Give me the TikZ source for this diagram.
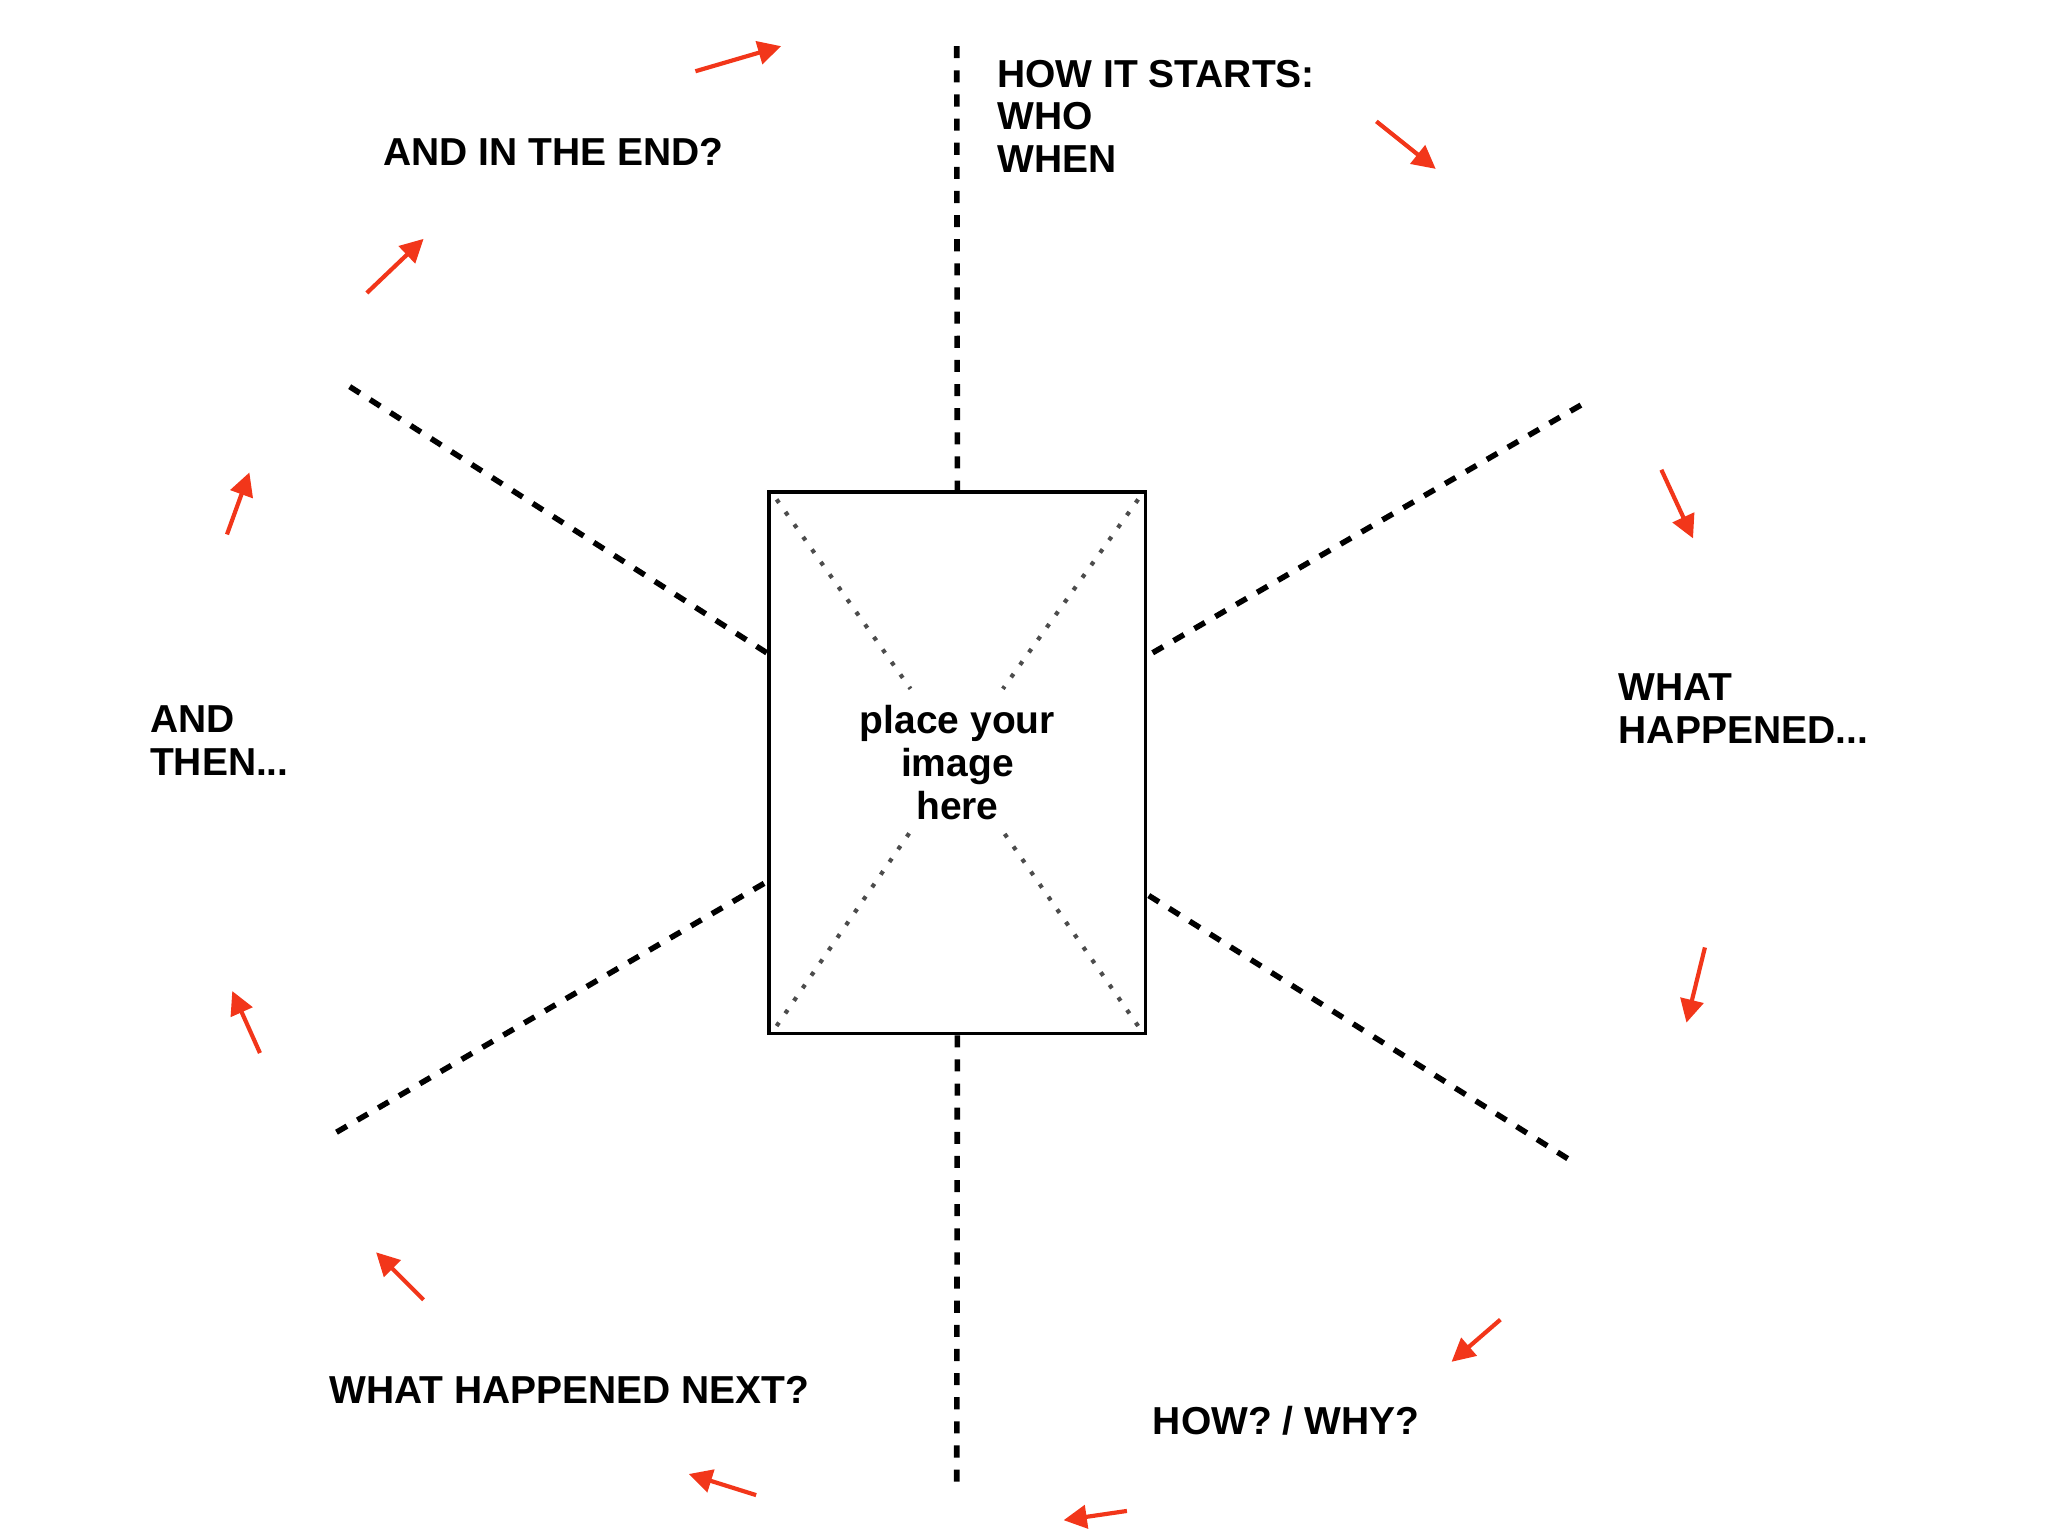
\documentclass[tikz,border=0pt]{standalone}
\usepackage{fontspec}
\setmainfont{Liberation Sans}
\usetikzlibrary{arrows.meta}
\definecolor{ar}{HTML}{F2361A}
\begin{document}
\begin{tikzpicture}[x=0.01cm,y=-0.01cm,
 dsh/.style={line width=1.2pt,dash pattern=on 2.6pt off 2.6pt},
 dot/.style={line width=0.9pt,gray!60!black,dash pattern=on 0.9pt off 2.4pt},
 ra/.style={ar,line width=0.9pt,-{Triangle[length=5pt,width=5pt]}},
 lbl/.style={font=\fontsize{8.4}{9.2}\selectfont\bfseries,align=left,anchor=west,inner sep=0}]
\useasboundingbox (0,0) rectangle (1552,1164);
\node[draw,line width=0.8pt,minimum width=2.85cm,minimum height=4.1cm,inner sep=0,
  font=\fontsize{8.4}{9.2}\selectfont\bfseries,align=center] (img) at (725.5,578) {place your\\image\\here};
\coordinate (t) at (725,35); \coordinate (b) at (725,1130);
\draw[dsh] (t) -- (img.north); \draw[dsh] (img.south) -- (b);
\coordinate (a1) at (265,293); \coordinate (a2) at (1198,307);
\coordinate (a3) at (255,858); \coordinate (a4) at (1188,878);
\draw[dsh] (a1) -- (img.west |- 0,495);
\draw[dsh] (a2) -- (img.east |- 0,497);
\draw[dsh] (a3) -- (img.west |- 0,668);
\draw[dsh] (a4) -- (img.east |- 0,678);
\draw[dot] (img.north west) ++(7,7) -- (690,522);
\draw[dot] (img.north east) ++(-7,7) -- (760,522);
\draw[dot] (img.south west) ++(7,-7) -- (690,630);
\draw[dot] (img.south east) ++(-7,-7) -- (760,630);
\node[lbl] (l1) at (755,88) {HOW IT STARTS:\\WHO\\WHEN};
\node[lbl] (l2) at (290,115) {AND IN THE END?};
\node[lbl] (l3) at (1226,537) {WHAT\\HAPPENED...};
\node[lbl] (l4) at (113,561) {AND\\THEN...};
\node[lbl] (l5) at (249,1053) {WHAT HAPPENED NEXT?};
\node[lbl] (l6) at (873,1077) {HOW? / WHY?};
\draw[ra] (527,54) -- (592,35);
\draw[ra] (1043,92) -- (1088,128);
\draw[ra] (278,222) -- (321,181);
\draw[ra] (172,405) -- (189,358);
\draw[ra] (1259,356) -- (1283,408);
\draw[ra] (1292,718) -- (1278,775);
\draw[ra] (197,798) -- (176,751);
\draw[ra] (1137,1000) -- (1100,1032);
\draw[ra] (321,985) -- (285,949);
\draw[ra] (573,1133) -- (522,1117);
\draw[ra] (854,1145) -- (806,1152);
\end{tikzpicture}
\end{document}
